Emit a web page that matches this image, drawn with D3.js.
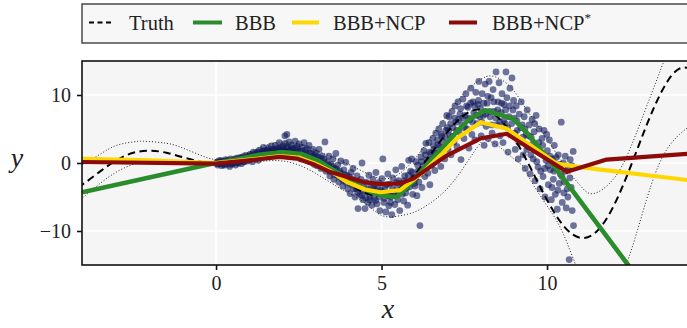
<!DOCTYPE html>
<html>
<head>
<meta charset="utf-8">
<script src="https://cdn.jsdelivr.net/npm/d3@7"></script>
<style>
  body { margin: 0; background: #fff; }
  text { font-family: "Liberation Serif", "DejaVu Serif", serif; fill: #222; }
</style>
</head>
<body>
<div id="chart-area"></div>
<script>
// legend / series names
var seriesNames = ['Truth', 'BBB', 'BBB+NCP', 'BBB+NCP*'];

// ground truth (dashed) sampled every 0.5
var truthX = [-4.5,-4,-3.5,-3,-2.5,-2,-1.5,-1,-0.5,0,0.5,1,1.5,2,2.5,3,3.5,4,4.5,5,5.5,6,6.5,7,7.5,8,8.5,9,9.5,10,10.5,11,11.5,12,12.5,13,13.5,14,14.5];
var truthY = [-4.40,-3.03,-1.23,0.42,1.50,1.82,1.50,0.84,0.24,0,0.24,0.84,1.50,1.82,1.50,0.42,-1.23,-3.03,-4.40,-4.79,-3.88,-1.68,1.40,4.60,7.04,7.92,6.79,3.71,-0.71,-5.44,-9.24,-11.00,-10.07,-6.44,-0.83,5.46,10.85,13.87,13.56];

// noise band (dotted)
var upperX = [-4.5,-4.05,-3.5,-3,-2.5,-2.2,-1.5,-1,-0.5,0,0.5,1,1.5,2,2.5,3,3.5,4,4.5,5,5.5,6,6.5,7,7.5,8,8.3,8.6,9,9.5,10,10.5,11,11.4,12,12.5,13,13.5,14,14.5];
var upperY = [-1.6,-0.3,1.3,2.6,3.1,3.2,2.9,2.2,1.2,0.5,0.8,1.6,2.6,3.1,2.8,1.9,0.9,-0.2,-1.4,-2.3,-1.7,0.6,3.8,7.2,10.3,12.3,12.8,12.3,10.6,7.0,3.6,-0.3,-3.3,-4.5,-2.4,2.0,8.2,14.6,21.0,27.0];
var lowerX = [-4.5,-4.05,-3.5,-3,-2.5,-2,-1.5,-1,-0.5,0,0.5,1,1.5,2,2.5,3,3.5,4,4.5,5,5.5,6,6.5,7,7.5,8,8.2,8.5,9,9.3,9.5,10,10.5,11,11.5,12,12.4,13,13.5,14,14.5];
var lowerY = [-7.2,-5.2,-3.0,-1.3,-0.2,0.3,0.3,0.1,-0.2,-0.4,-0.3,0.0,0.3,0.3,-0.3,-1.5,-3.0,-4.4,-5.9,-7.7,-7.8,-7.2,-5.8,-3.7,-0.5,3.0,3.3,2.6,0.6,-0.6,-2.5,-6.3,-10.5,-16.5,-19.0,-17.0,-14.8,-5.5,1.0,4.2,6.0];

// model means
var bbbX = [-4.05,-0.2,0.6,1.3,2.0,2.6,3.1,3.5,4.0,4.5,4.97,5.46,5.9,6.27,6.8,7.27,7.67,8.13,8.98,9.4,10.3,12.45,14.4];
var bbbY = [-4.3,-0.2,0.5,1.2,1.6,1.3,0.3,-0.9,-2.4,-3.9,-4.75,-5.0,-3.0,-0.8,2.0,4.6,6.5,7.75,6.5,4.4,-1.0,-15,-28];
var ncpX = [-4.05,-2,0,1.0,1.93,2.5,3.0,3.5,3.95,4.5,4.97,5.56,6.27,6.8,7.27,8.0,8.78,9.49,10.3,11.0,14.4];
var ncpY = [0.6,0.4,0,0.5,1.0,0.8,-0.1,-1.3,-2.8,-3.9,-4.3,-4.0,-1.3,1.2,3.6,6.0,5.05,2.6,-0.1,-0.6,-2.6];
var ncpsX = [-4.05,0,1.0,1.93,2.44,3.0,3.44,4.45,4.97,5.56,5.96,6.97,7.98,8.78,9.49,10.6,11.8,14.4];
var ncpsY = [0.15,-0.1,0.4,0.9,0.65,-0.3,-1.3,-2.8,-3.1,-3.0,-2.3,1.1,3.6,4.3,2.1,-1.3,0.5,1.4];

// observed samples [x, y]
var samples = [
[0.02,0.1],[0.05,-0.3],[0.08,0.3],[0.11,-0.1],[0.14,0.4],[0.17,-0.4],[0.2,0.2],[0.23,0.0],[0.26,-0.3],[0.29,0.5],[0.32,0.1],[0.35,-0.2],[0.38,0.3],[0.41,-0.5],[0.44,0.6],[0.47,0.2],[0.5,-0.1],[0.53,0.5],[0.56,0.1],[0.59,-0.3],[0.62,0.7],[0.65,0.3],[0.68,0.0],[0.71,0.8],[0.74,0.4],[0.77,-0.1],[0.8,0.9],[0.83,0.5],[0.86,0.2],[0.89,1.1],[0.92,0.6],[0.95,0.3],[0.98,1.0],
[1.01,0.5],[1.04,1.3],[1.07,0.9],[1.1,0.2],[1.13,1.6],[1.16,1.0],[1.19,0.6],[1.22,1.5],[1.25,1.1],[1.28,0.4],[1.31,1.9],[1.34,1.3],[1.37,0.8],[1.4,1.7],[1.43,2.3],[1.46,1.2],[1.49,0.9],[1.52,1.8],[1.55,1.4],[1.58,2.2],[1.61,1.0],[1.64,1.7],[1.67,2.5],[1.7,1.3],[1.73,2.0],[1.76,1.6],[1.79,2.6],[1.82,1.1],[1.85,2.2],[1.88,1.8],[1.91,3.0],[1.94,1.4],[1.97,2.4],[2.0,1.9],[2.08,4.0],[2.14,4.2],
[2.03,2.5],[2.06,1.2],[2.09,2.9],[2.12,1.6],[2.15,2.2],[2.18,1.0],[2.21,3.1],[2.24,1.9],[2.27,2.6],[2.3,1.3],[2.33,2.2],[2.36,0.9],[2.39,3.2],[2.42,1.6],[2.45,2.4],[2.48,1.1],[2.51,2.8],[2.54,1.7],[2.57,0.6],[2.6,2.3],[2.63,1.2],[2.66,3.0],[2.69,1.5],[2.72,0.5],[2.75,2.1],[2.78,1.0],[2.81,2.6],[2.84,0.2],[2.87,1.4],[2.9,0.7],[2.93,2.0],[2.96,-0.2],[2.99,1.1],
[3.02,1.5],[3.05,-0.4],[3.08,0.9],[3.11,2.0],[3.14,0.1],[3.17,-0.8],[3.2,1.0],[3.23,-0.3],[3.26,0.6],[3.29,3.1],[3.32,-1.2],[3.35,0.2],[3.38,-0.6],[3.41,1.0],[3.44,-1.9],[3.47,-0.2],[3.5,-1.0],[3.53,0.6],[3.56,-2.4],[3.59,-0.8],[3.62,1.4],[3.65,-1.6],[3.68,-0.3],[3.71,-2.8],[3.74,-1.2],[3.77,0.3],[3.8,-2.0],[3.83,-3.4],[3.86,-1.0],[3.89,-2.6],[3.92,0.1],[3.95,-1.8],[3.98,-3.8],
[4.02,-2.0],[4.05,-4.5],[4.08,-1.4],[4.11,-3.2],[4.14,-0.8],[4.17,-2.6],[4.2,-5.0],[4.23,-3.8],[4.26,-1.9],[4.29,-6.7],[4.32,-3.0],[4.35,-4.6],[4.38,-2.4],[4.41,0.0],[4.44,-5.4],[4.47,-3.6],[4.5,-6.7],[4.53,-2.8],[4.56,-4.2],[4.59,-5.8],[4.62,-1.8],[4.65,-4.9],[4.68,-3.3],[4.71,-6.2],[4.74,-2.4],[4.77,-5.2],[4.8,-3.9],[4.83,-1.4],[4.86,-6.0],[4.89,-4.5],[4.92,-2.9],[4.95,-7.0],[4.98,-4.0],
[5.01,-2.3],[5.04,0.6],[5.07,-5.8],[5.1,-3.6],[5.13,-7.2],[5.16,-4.4],[5.19,-1.6],[5.22,-6.3],[5.25,-3.1],[5.28,-5.0],[5.31,-7.6],[5.34,-2.2],[5.37,-4.7],[5.4,-6.1],[5.43,-1.0],[5.46,-3.8],[5.49,-5.4],[5.52,-2.6],[5.55,-7.0],[5.58,-4.1],[5.61,-0.5],[5.64,-3.2],[5.67,-5.6],[5.7,-1.9],[5.73,-4.4],[5.76,-2.8],[5.79,-6.2],[5.82,0.4],[5.85,-3.5],[5.88,-1.2],[5.91,0.6],[5.94,-4.6],[5.97,-2.1],
[6.01,-3.4],[6.04,0.2],[6.07,-4.8],[6.1,-1.2],[6.13,-2.8],[6.16,-9.2],[6.19,0.9],[6.22,-3.6],[6.25,-0.4],[6.28,1.8],[6.31,-2.0],[6.34,2.9],[6.37,0.5],[6.4,-1.5],[6.43,3.0],[6.46,-3.2],[6.49,1.4],[6.52,-0.3],[6.55,3.6],[6.58,2.0],[6.61,-1.1],[6.64,4.4],[6.67,0.8],[6.7,2.7],[6.73,5.0],[6.76,1.6],[6.79,-0.5],[6.82,3.9],[6.85,5.8],[6.88,2.2],[6.91,0.6],[6.94,4.8],[6.97,7.0],
[7.01,2.0],[7.04,6.8],[7.07,4.0],[7.1,1.2],[7.13,7.6],[7.16,5.2],[7.19,3.1],[7.22,8.4],[7.25,6.0],[7.28,2.4],[7.31,9.0],[7.34,4.6],[7.37,7.2],[7.4,0.5],[7.43,5.6],[7.46,9.4],[7.49,3.6],[7.52,7.0],[7.55,10.2],[7.58,5.0],[7.61,8.2],[7.64,2.2],[7.67,6.4],[7.7,11.0],[7.73,4.2],[7.76,9.0],[7.79,7.4],[7.82,3.4],[7.85,10.4],[7.88,5.8],[7.91,8.6],[7.94,12.0],[7.97,6.8],
[8.01,4.0],[8.04,10.2],[8.07,7.0],[8.1,2.6],[8.13,11.6],[8.16,5.4],[8.19,8.8],[8.22,3.6],[8.25,12.0],[8.28,6.8],[8.31,9.6],[8.34,4.4],[8.37,10.8],[8.4,7.6],[8.43,2.8],[8.46,13.4],[8.49,5.6],[8.52,9.0],[8.55,11.8],[8.58,4.0],[8.61,7.4],[8.64,10.2],[8.67,3.0],[8.7,8.6],[8.73,5.8],[8.76,13.4],[8.79,9.6],[8.82,1.6],[8.85,6.8],[8.88,11.0],[8.91,4.2],[8.94,12.5],[8.97,7.8],
[9.01,6.6],[9.04,2.0],[9.07,8.4],[9.1,4.8],[9.13,0.6],[9.16,7.2],[9.19,3.4],[9.22,9.0],[9.25,5.6],[9.28,1.2],[9.31,6.8],[9.34,-0.8],[9.37,4.2],[9.4,7.8],[9.43,2.4],[9.46,5.6],[9.49,-1.6],[9.52,3.8],[9.55,6.4],[9.58,0.6],[9.61,4.6],[9.64,-2.6],[9.67,7.0],[9.7,2.2],[9.73,-0.6],[9.76,5.0],[9.79,-3.8],[9.82,1.4],[9.85,3.6],[9.88,-2.0],[9.91,4.8],[9.94,-5.0],[9.97,0.4],
[10.01,1.8],[10.04,-3.2],[10.07,3.4],[10.1,-1.0],[10.13,-5.4],[10.16,0.6],[10.19,-2.4],[10.22,2.6],[10.25,-4.6],[10.28,-0.8],[10.31,-6.8],[10.34,1.2],[10.37,-3.0],[10.4,-1.6],[10.43,6.0],[10.46,-5.8],[10.49,0.0],[10.52,-2.8],[10.55,1.0],[10.58,-6.6],[10.61,-3.8],[10.64,-0.6],[10.67,-14.2],[10.7,0.5],[10.73,-3.6],[10.76,-7.0],[10.79,1.7],[10.8,-9.2],
[0.03,-0.1],[0.09,0.1],[0.16,0.2],[0.22,-0.2],[0.28,0.2],[0.34,0.4],[0.4,0.1],[0.46,-0.2],[0.52,0.3],[0.58,0.5],[0.64,0.0],[0.7,0.5],[0.76,0.7],[0.82,0.2],[0.88,0.7],[0.94,0.9],
[1.02,0.9],[1.08,1.2],[1.14,0.7],[1.2,1.3],[1.26,1.6],[1.32,1.0],[1.38,1.5],[1.44,1.8],[1.5,1.4],[1.56,1.9],[1.62,1.5],[1.68,1.9],[1.74,1.4],[1.8,2.0],[1.86,1.6],[1.92,2.1],[1.98,1.6],
[2.04,2.0],[2.1,1.5],[2.16,2.4],[2.22,1.7],[2.28,2.0],[2.34,1.5],[2.4,2.2],[2.46,1.8],[2.52,1.3],[2.58,1.8],[2.64,1.1],[2.7,1.9],[2.76,0.8],[2.82,1.5],[2.88,0.4],[2.94,1.0],
[3.04,0.5],[3.1,-0.2],[3.16,0.7],[3.22,-0.6],[3.28,0.0],[3.34,-0.9],[3.4,-0.3],[3.46,-1.3],[3.52,-0.5],[3.58,-1.7],[3.64,-0.9],[3.7,-2.0],[3.76,-1.5],[3.82,-2.5],[3.88,-1.7],[3.94,-2.9],
[4.04,-3.0],[4.1,-2.4],[4.16,-3.8],[4.22,-2.9],[4.28,-4.3],[4.34,-3.5],[4.4,-4.8],[4.46,-4.0],[4.52,-5.1],[4.58,-3.9],[4.64,-5.4],[4.7,-4.3],[4.76,-3.4],[4.82,-5.5],[4.88,-3.6],[4.94,-5.0],
[5.03,-4.2],[5.09,-5.2],[5.15,-3.2],[5.21,-4.8],[5.27,-5.8],[5.33,-3.9],[5.39,-4.6],[5.45,-2.9],[5.51,-4.4],[5.57,-3.0],[5.63,-4.6],[5.69,-2.6],[5.75,-3.7],[5.81,-1.8],[5.87,-3.0],[5.93,-1.4],[5.99,-3.0],
[6.03,-2.2],[6.09,-0.3],[6.15,-1.6],[6.21,0.2],[6.27,-1.0],[6.33,1.2],[6.39,0.0],[6.45,1.6],[6.51,0.6],[6.57,2.6],[6.63,1.4],[6.69,3.4],[6.75,2.4],[6.81,4.2],[6.87,3.0],[6.93,3.8],[6.99,5.2],
[7.03,4.8],[7.09,5.8],[7.15,3.9],[7.21,6.6],[7.27,4.8],[7.33,6.4],[7.39,8.0],[7.45,6.6],[7.51,5.2],[7.57,8.4],[7.63,6.6],[7.69,8.8],[7.75,6.0],[7.81,8.4],[7.87,7.0],[7.93,9.2],[7.99,8.0],
[8.03,6.0],[8.09,8.8],[8.15,7.2],[8.21,9.8],[8.27,7.6],[8.33,5.6],[8.39,9.0],[8.45,6.6],[8.51,7.8],[8.57,6.0],[8.63,8.8],[8.69,6.2],[8.75,7.8],[8.81,5.2],[8.87,8.4],[8.93,5.8],[8.99,9.2],
[9.03,4.4],[9.09,6.2],[9.15,3.0],[9.21,5.2],[9.27,3.8],[9.33,5.0],[9.39,2.0],[9.45,4.0],[9.51,1.2],[9.57,2.8],[9.63,5.8],[9.69,0.2],[9.75,3.0],[9.81,-1.2],[9.87,2.6],[9.93,-0.8],[9.99,4.2],
[10.03,-0.4],[10.09,1.0],[10.15,-3.6],[10.21,-1.2],[10.27,0.8],[10.33,-4.0],[10.39,-0.2],[10.45,-2.0],[10.51,-4.4],[10.57,-1.2],[10.63,-5.0],[10.69,-2.2],[10.75,-0.4]
];

// ticks
var xTicks = [0, 5, 10];
var yTicks = [-10, 0, 10];

var svgWidth = 687;
var svgHeight = 328;
var plot = {left: 82, right: 692, top: 61, bottom: 265};

var svg = d3.select('#chart-area')
  .append('svg')
  .attr('width', svgWidth)
  .attr('height', svgHeight);

var xScale = d3.scaleLinear().domain([-4.05, 14.38]).range([plot.left, plot.right]);
var yScale = d3.scaleLinear().domain([-15, 15]).range([plot.bottom, plot.top]);

// plot background
svg.append('rect')
  .attr('x', plot.left).attr('y', plot.top)
  .attr('width', plot.right - plot.left).attr('height', plot.bottom - plot.top)
  .attr('fill', '#f5f5f5');

svg.append('defs').append('clipPath').attr('id', 'clip')
  .append('rect')
  .attr('x', plot.left).attr('y', plot.top)
  .attr('width', plot.right - plot.left).attr('height', plot.bottom - plot.top);

// grid
svg.append('g').selectAll('line').data(xTicks).enter().append('line')
  .attr('x1', d => xScale(d)).attr('x2', d => xScale(d))
  .attr('y1', plot.top).attr('y2', plot.bottom)
  .attr('stroke', '#fff').attr('stroke-width', 1.6);
svg.append('g').selectAll('line').data(yTicks).enter().append('line')
  .attr('y1', d => yScale(d)).attr('y2', d => yScale(d))
  .attr('x1', plot.left).attr('x2', plot.right)
  .attr('stroke', '#fff').attr('stroke-width', 1.6);

var g = svg.append('g').attr('clip-path', 'url(#clip)');

// scatter
g.append('g').selectAll('circle').data(samples).enter().append('circle')
  .attr('cx', d => xScale(d[0]))
  .attr('cy', d => yScale(d[1]))
  .attr('r', 3.4)
  .attr('fill', '#111a5c')
  .attr('fill-opacity', 0.6);

function zipXY(xs, ys) {
  return xs.map((x, i) => [x, ys[i]]);
}

var smooth = d3.line().x(d => xScale(d[0])).y(d => yScale(d[1])).curve(d3.curveNatural);
var straight = d3.line().x(d => xScale(d[0])).y(d => yScale(d[1]));

// noise band
[zipXY(upperX, upperY), zipXY(lowerX, lowerY)].forEach(pts => {
  g.append('path').attr('d', smooth(pts))
    .attr('fill', 'none').attr('stroke', '#222')
    .attr('stroke-width', 1).attr('stroke-dasharray', '1,2');
});

// truth
g.append('path').attr('d', smooth(zipXY(truthX, truthY)))
  .attr('fill', 'none').attr('stroke', '#000')
  .attr('stroke-width', 2).attr('stroke-dasharray', '7.5,4.5');

var models = [
  {x: bbbX, y: bbbY, color: '#2a8c2a', w: 4.6},
  {x: ncpX, y: ncpY, color: '#ffd700', w: 4.2},
  {x: ncpsX, y: ncpsY, color: '#8b0a0a', w: 4.2}
];
models.forEach(m => {
  g.append('path').attr('d', straight(zipXY(m.x, m.y)))
    .attr('fill', 'none').attr('stroke', m.color)
    .attr('stroke-width', m.w).attr('stroke-linejoin', 'round');
});

// frame
svg.append('rect')
  .attr('x', plot.left).attr('y', plot.top)
  .attr('width', plot.right - plot.left).attr('height', plot.bottom - plot.top)
  .attr('fill', 'none').attr('stroke', '#111').attr('stroke-width', 1.6);

// axes
var xAxis = d3.axisBottom(xScale).tickValues(xTicks).tickSize(5).tickPadding(6);
var yAxis = d3.axisLeft(yScale).tickValues(yTicks).tickSize(5).tickPadding(6);

var xg = svg.append('g').attr('transform', 'translate(0,' + plot.bottom + ')').call(xAxis);
var yg = svg.append('g').attr('transform', 'translate(' + plot.left + ',0)').call(yAxis);
[xg, yg].forEach(a => {
  a.select('.domain').remove();
  a.selectAll('line').attr('stroke', '#111').attr('stroke-width', 1.6);
  a.selectAll('text').attr('font-size', 20).attr('font-family', '"Liberation Serif", serif').attr('fill', '#222');
});

// axis labels
svg.append('text')
  .attr('x', 388).attr('y', 318)
  .attr('text-anchor', 'middle')
  .attr('font-size', 28).attr('font-style', 'italic')
  .text('x');
svg.append('text')
  .attr('x', 17).attr('y', yScale(0) + 4)
  .attr('text-anchor', 'middle')
  .attr('font-size', 28).attr('font-style', 'italic')
  .text('y');

// legend
var lg = svg.append('g');
lg.append('rect')
  .attr('x', 82).attr('y', 4).attr('width', 640).attr('height', 39)
  .attr('fill', '#f7f7f7').attr('stroke', '#4a4a4a').attr('stroke-width', 1.5);

var legendItems = [
  {x1: 89, x2: 113, tx: 129, color: '#000', w: 2, dash: '5,3.5'},
  {x1: 193, x2: 222, tx: 235, color: '#2a8c2a', w: 4, dash: null},
  {x1: 292, x2: 319, tx: 333, color: '#ffd700', w: 4, dash: null},
  {x1: 449, x2: 477, tx: 492, color: '#8b0a0a', w: 4, dash: null}
];
legendItems.forEach((it, i) => {
  lg.append('line')
    .attr('x1', it.x1).attr('x2', it.x2).attr('y1', 22.5).attr('y2', 22.5)
    .attr('stroke', it.color).attr('stroke-width', it.w)
    .attr('stroke-dasharray', it.dash);
  var t = lg.append('text').attr('x', it.tx).attr('y', 29.5).attr('font-size', 20.5);
  if (i === 3) {
    t.append('tspan').text('BBB+NCP');
    t.append('tspan').attr('dy', -8).attr('font-size', 13).text('*');
  } else {
    t.text(seriesNames[i]);
  }
});
</script>
</body>
</html>
